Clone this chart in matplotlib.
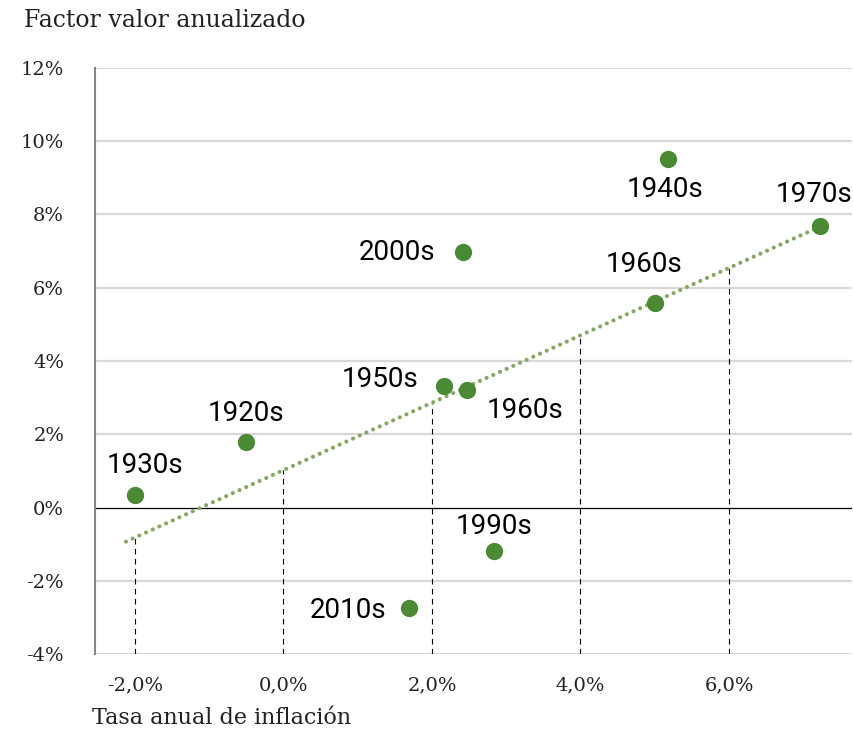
import numpy as np
import matplotlib
matplotlib.use("Agg")
import matplotlib.pyplot as plt

# data (percent)
decades = ["1930s", "1920s", "2010s", "1950s", "1960s", "2000s", "1990s", "1960s", "1940s", "1970s"]
inflation = [-2.0, -0.5, 1.69, 2.16, 2.47, 2.42, 2.84, 5.0, 5.18, 7.22]
value_factor = [0.35, 1.78, -2.73, 3.33, 3.22, 6.97, -1.20, 5.57, 9.51, 7.68]

# trend line (as drawn in the reference)
trend_slope = 0.92
trend_intercept = 1.02
trend_range = [-2.12, 7.22]

x_ticks = [-2, 0, 2, 4, 6]
x_labels = ["-2,0%", "0,0%", "2,0%", "4,0%", "6,0%"]
y_ticks = [-4, -2, 0, 2, 4, 6, 8, 10, 12]
y_labels = [f"{v}%" for v in y_ticks]

# label offsets in points: (dx, dy, ha, va)
label_pos = [
    (7, 11, "center", "bottom"),
    (0, 11, "center", "bottom"),
    (-16, -2, "right", "center"),
    (-18, 4, "right", "center"),
    (14, -15, "left", "center"),
    (-20, 0, "right", "center"),
    (0, 8.5, "center", "bottom"),
    (-8, 18, "center", "bottom"),
    (-2, -12, "center", "top"),
    (-4, 13, "center", "bottom"),
]

dot_color = "#4a8a32"
trend_color = "#86a860"
grid_color = "#d9d9d9"
serif = "DejaVu Serif"

fig = plt.figure(figsize=(8.54, 7.3), dpi=100)
ax = fig.add_axes([0.111, 0.104, 0.887, 0.803])

ax.set_xlim(-2.54, 7.66)
ax.set_ylim(-4, 12)

for y in y_ticks:
    if y == 0:
        ax.axhline(0, color="black", lw=0.9, zorder=2)
    else:
        ax.axhline(y, color=grid_color, lw=1.6, zorder=1)

# dashed droplines from axis to trend
for x in x_ticks:
    ax.plot([x, x], [-4, trend_intercept + trend_slope * x], color="black",
            lw=0.8, ls=(0, (5, 4)), zorder=2)

tx = np.array(trend_range)
ax.plot(tx, trend_intercept + trend_slope * tx, color=trend_color, lw=3.0,
        ls=(0, (0.01, 1.75)), dash_capstyle="round", zorder=3)

ax.scatter(inflation, value_factor, s=155, color=dot_color, zorder=4, linewidths=0)

for name, x, y, (dx, dy, ha, va) in zip(decades, inflation, value_factor, label_pos):
    ax.annotate(name, (x, y), xytext=(dx, dy), textcoords="offset points",
                ha=ha, va=va, fontsize=20, family="Roboto", color="black")

for s in ["top", "right", "bottom"]:
    ax.spines[s].set_visible(False)
ax.spines["left"].set_color("#888888")
ax.spines["left"].set_linewidth(1.5)

ax.set_xticks(x_ticks)
ax.set_xticklabels(x_labels, family=serif, fontsize=14, color="#222222")
ax.set_yticks(y_ticks)
ax.set_yticklabels(y_labels, family=serif, fontsize=14, color="#222222")
ax.tick_params(axis="both", length=0)
ax.tick_params(axis="x", pad=16)
ax.tick_params(axis="y", pad=22)

fig.text(0.028, 0.972, "Factor valor anualizado", family=serif, fontsize=17,
         ha="left", va="center", color="#222222")
fig.text(0.108, 0.016, "Tasa anual de inflación", family=serif, fontsize=16,
         ha="left", va="center", color="#222222")

fig.savefig("out.png", dpi=100)
